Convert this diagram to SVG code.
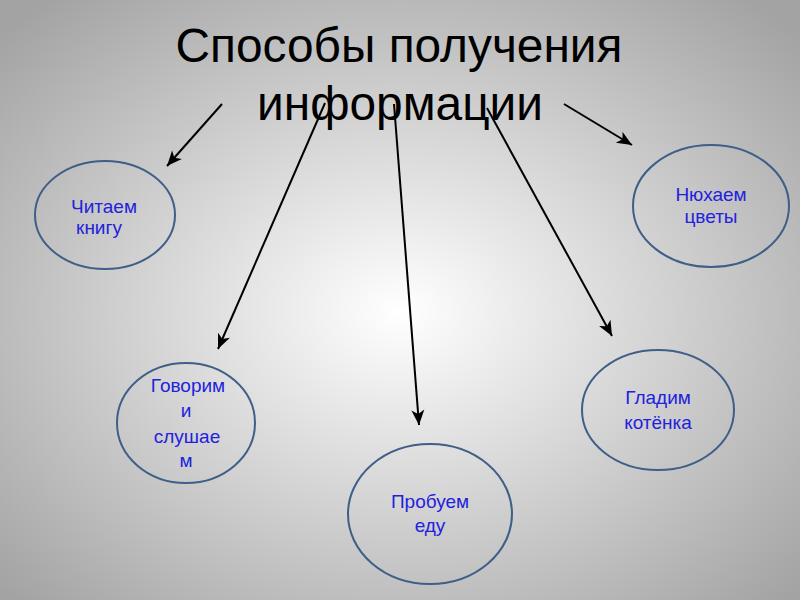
<svg xmlns="http://www.w3.org/2000/svg" width="800" height="600" viewBox="0 0 800 600">
<defs>
<radialGradient id="bg" cx="50%" cy="52%" r="68%">
<stop offset="0" stop-color="#ffffff"/>
<stop offset="1" stop-color="#a3a3a3"/>
</radialGradient>
<marker id="ah" markerUnits="userSpaceOnUse" markerWidth="20" markerHeight="16" viewBox="-16 -8 18 16" refX="0" refY="0" orient="auto">
<path d="M0,0 L-15,-6.5 L-11,0 L-15,6.5 Z" fill="#000"/>
</marker>
<style>
.title{font-family:"Liberation Sans",Arial,sans-serif;font-size:48px;fill:#000;text-anchor:middle}
.node ellipse{fill:none;stroke:#3d5f88;stroke-width:2}
.node text{font-family:"Liberation Sans",Arial,sans-serif;font-size:19px;fill:#2222dd;text-anchor:middle}
.conn line{stroke:#000;stroke-width:2;marker-end:url(#ah)}
</style>
</defs>
<rect width="800" height="600" fill="url(#bg)"/>
<g id="title">
<text class="title" x="399" y="62" textLength="447" lengthAdjust="spacingAndGlyphs">Способы получения</text>
<text class="title" x="400" y="120" textLength="286" lengthAdjust="spacingAndGlyphs">информации</text>
</g>
<g id="n1" class="node">
<ellipse cx="105" cy="215" rx="70" ry="54"/>
<text x="104" y="213">Читаем</text>
<text x="99" y="234">книгу</text>
</g>
<g id="n2" class="node">
<ellipse cx="186" cy="423" rx="69" ry="60"/>
<text x="188" y="392">Говорим</text>
<text x="186" y="417">и</text>
<text x="187" y="443">слушае</text>
<text x="186" y="467">м</text>
</g>
<g id="n3" class="node">
<ellipse cx="430" cy="514" rx="82" ry="70"/>
<text x="430" y="508">Пробуем</text>
<text x="430" y="532">еду</text>
</g>
<g id="n4" class="node">
<ellipse cx="658" cy="410" rx="76" ry="60"/>
<text x="658" y="404">Гладим</text>
<text x="658" y="429">котёнка</text>
</g>
<g id="n5" class="node">
<ellipse cx="711" cy="206" rx="78" ry="61"/>
<text x="711" y="201">Нюхаем</text>
<text x="711" y="223">цветы</text>
</g>
<g id="connectors" class="conn">
<line x1="222" y1="104" x2="167" y2="166"/>
<line x1="325" y1="103" x2="218" y2="349"/>
<line x1="394" y1="104" x2="419" y2="425"/>
<line x1="487" y1="108" x2="612" y2="336"/>
<line x1="564" y1="104" x2="632" y2="145"/>
</g>
</svg>
